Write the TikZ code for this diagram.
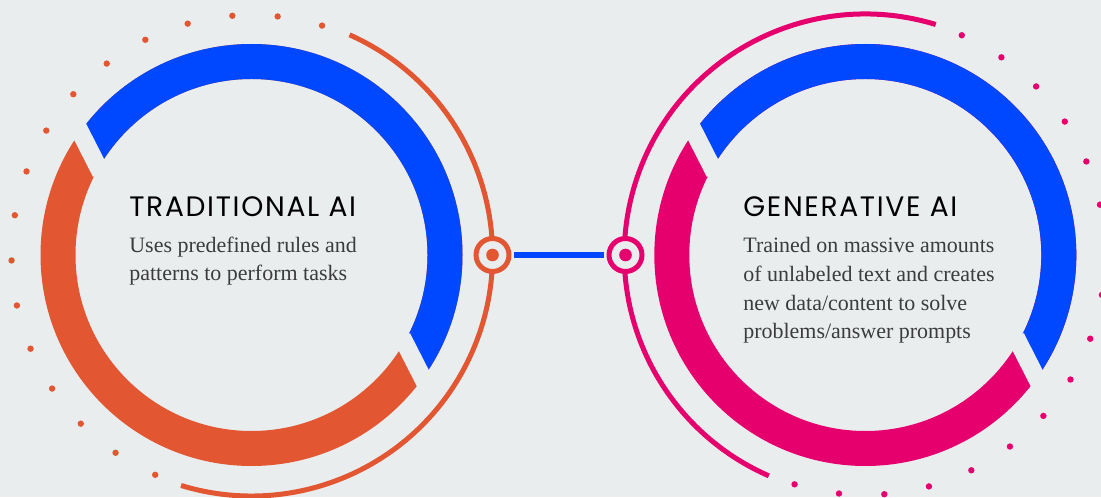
\documentclass[tikz,border=0pt]{standalone}
\usepackage{fontspec}
\setmainfont{Liberation Serif}
\newfontfamily\headfont[LetterSpace=6]{Poppins}
\usetikzlibrary{positioning}

\definecolor{bgcol}{RGB}{233,237,238}
\definecolor{tradorange}{RGB}{226,86,50}
\definecolor{aiblue}{RGB}{0,72,255}
\definecolor{genpink}{RGB}{230,0,110}
\definecolor{bodygray}{RGB}{60,60,60}

\tikzstyle{ring} = [line width=0.7cm]
\tikzstyle{thinarc} = [line width=0.1cm]
\tikzstyle{gapcut} = [draw=bgcol, line width=0.36cm]
\tikzstyle{hub} = [circle, draw, line width=0.1cm, fill=bgcol, minimum size=0.66cm, inner sep=0pt]
\tikzstyle{title} = [anchor=base west, inner sep=0pt, font=\headfont\fontsize{16}{17}\selectfont]
\tikzstyle{body} = [anchor=base west, inner sep=0pt, align=left, text=bodygray, font=\fontsize{12.5}{16.45}\selectfont]
\tikzstyle{link} = [aiblue, line width=0.12cm, shorten <=0.05cm, shorten >=0.05cm]

\begin{document}
\begin{tikzpicture}[x=0.02cm, y=0.02cm]

    \fill [bgcol] (0,0) rectangle (1101,497);
    \useasboundingbox (0,0) rectangle (1101,497);

    % traditional ai
    \begin{scope}[shift={(251.5,242)}]
        \draw [ring, tradorange] (0,0) circle [radius=193.5];
        \begin{scope}
            \clip (-135.1,51.9) -- (-189.5,158.9) -- (-120,400) -- (420,400)
                -- (420,-260) -- (189.5,-158.9) -- (135.1,-51.9) -- cycle;
            \draw [ring, aiblue] (0,0) circle [radius=193.5];
        \end{scope}
        \draw [gapcut] (147:193.5) ++(117:26) -- ++(-63:52);
        \draw [gapcut] (-33:193.5) ++(117:26) -- ++(-63:52);

        \draw [thinarc, tradorange] (66:241) arc [start angle=66, end angle=-107, radius=241];
        \foreach \i in {0,...,16}
            \fill [tradorange] ({72.9+10.84*\i}:240) circle [radius=3.2];
    \end{scope}

    % generative ai
    \begin{scope}[shift={(865.3,242)}]
        \draw [ring, genpink] (0,0) circle [radius=193.5];
        \begin{scope}
            \clip (-135.1,51.9) -- (-189.5,158.9) -- (-120,400) -- (420,400)
                -- (420,-260) -- (189.5,-158.9) -- (135.1,-51.9) -- cycle;
            \draw [ring, aiblue] (0,0) circle [radius=193.5];
        \end{scope}
        \draw [gapcut] (147:193.5) ++(117:26) -- ++(-63:52);
        \draw [gapcut] (-33:193.5) ++(117:26) -- ++(-63:52);

        \draw [thinarc, genpink] (73:241) arc [start angle=73, end angle=246.4, radius=241];
        \foreach \i in {0,...,16}
            \fill [genpink] ({66.3-10.84*\i}:240) circle [radius=3.2];
    \end{scope}

    \node (tradhub) [hub, draw=tradorange] at (492.5,242) {};
    \node (genhub) [hub, draw=genpink] at (625.5,242) {};
    \fill [tradorange] (tradhub.center) circle [radius=6.3];
    \fill [genpink] (genhub.center) circle [radius=6.3];
    \draw [link] (tradhub) -- (genhub);

    % base of a text node sits on its last line
    \node (tradtitle) [title] at (129,280) {TRADITIONAL AI};
    \node (tradtext) [body, below=1.28cm of tradtitle.base west, anchor=base west]
        {Uses predefined rules and\\patterns to perform tasks};

    \node (gentitle) [title] at (743,280) {GENERATIVE AI};
    \node (gentext) [body, below=2.44cm of gentitle.base west, anchor=base west]
        {Trained on massive amounts\\of unlabeled text and creates\\new data/content to solve\\problems/answer prompts};

\end{tikzpicture}
\end{document}
